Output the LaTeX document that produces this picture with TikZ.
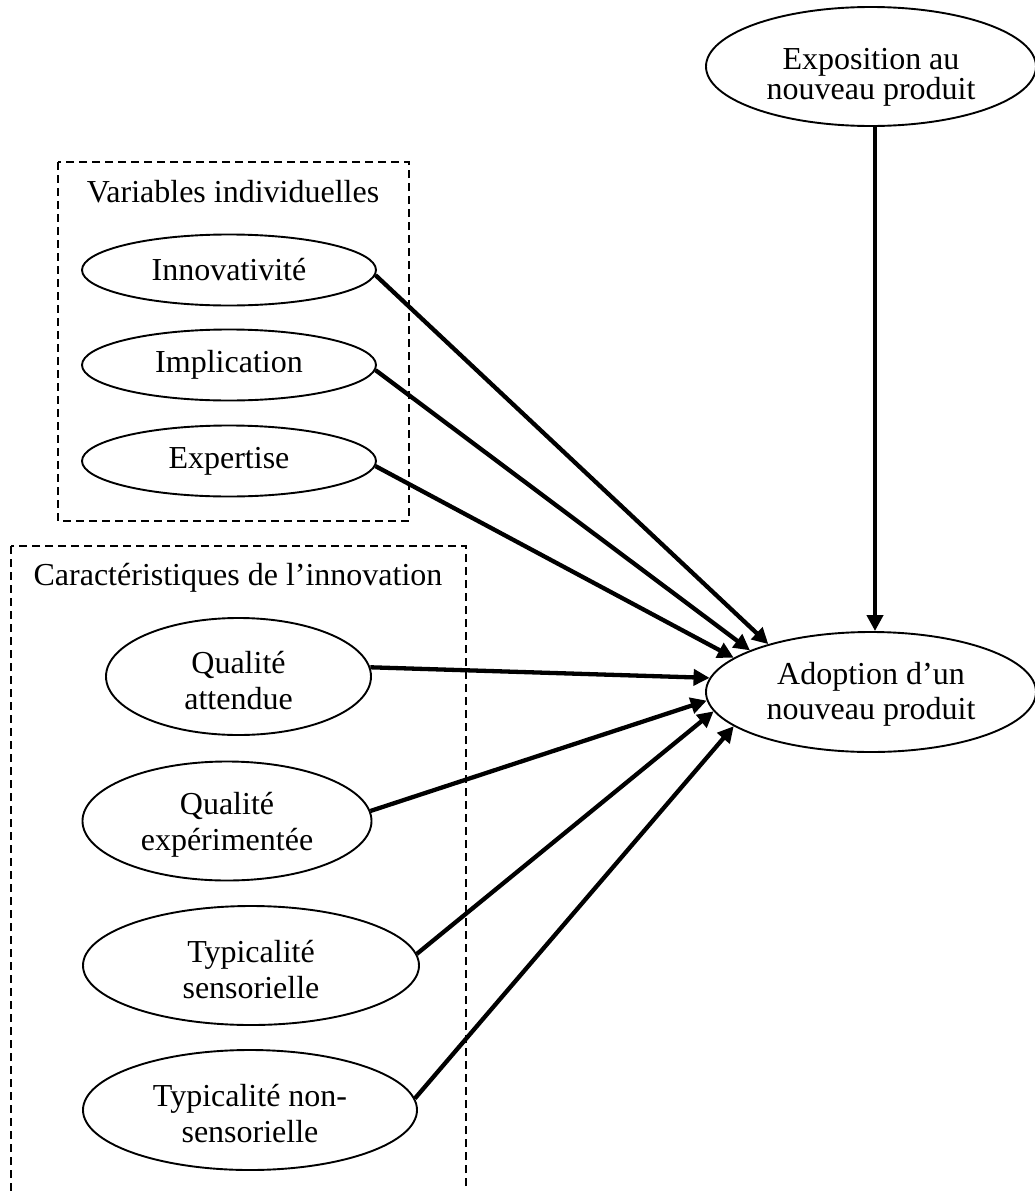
\documentclass[tikz,border=0pt]{standalone}
\usepackage{fontspec}
\setmainfont{Liberation Serif}
\usetikzlibrary{shapes.geometric,arrows.meta}

% invisible strut that lowers the text block inside an ellipse
\newcommand{\lowerby}[1]{\rule{0pt}{#1}}

\tikzset{
  construct/.style={draw, ellipse, line width=1.9pt, inner sep=0pt, align=center,
    font=\fontsize{32}{36}\selectfont},
  groupbox/.style={draw, line width=1.8pt, dash pattern=on 8pt off 5pt},
  boxtitle/.style={anchor=base, inner sep=0pt, font=\fontsize{32}{38}\selectfont},
  effect/.style={line width=4.3pt, -{Triangle[length=16pt,width=16pt]}}
}

\begin{document}
\begin{tikzpicture}[x=1pt, y=-1pt]
  \clip (0,0) rectangle (1035,1191);
  \fill[white] (0,0) rectangle (1035,1191);

  % group frames
  \draw[groupbox] (58,162) rectangle (409,521);
  \draw[groupbox] (11,546) rectangle (466,1230);
  \node[boxtitle] (tvar) at (233,202) {Variables individuelles};
  \node[boxtitle] (tcar) at (238,585) {Caractéristiques de l’innovation};

  % individual variables
  \node[construct, minimum width=294pt, minimum height=71pt] (inno) at (229,270) {Innovativité};
  \node[construct, minimum width=294pt, minimum height=71pt] (impl) at (229,365) {Implication};
  \node[construct, minimum width=294pt, minimum height=71pt] (expe) at (229,461) {Expertise};

  % characteristics of the innovation
  \node[construct, minimum width=265pt, minimum height=117pt] (qatt) at (238.5,676.5)
    {\lowerby{30pt}Qualité\\attendue};
  \node[construct, minimum width=289pt, minimum height=119pt] (qexp) at (227,821)
    {\lowerby{30pt}Qualité\\expérimentée};
  \node[construct, minimum width=336pt, minimum height=119pt] (tsen) at (251,965.5)
    {\lowerby{30pt}Typicalité\\sensorielle};
  \node[construct, minimum width=334pt, minimum height=120pt] (tnon) at (250,1110)
    {\lowerby{30pt}Typicalité non-\\sensorielle};

  % exposure and adoption
  \node[construct, minimum width=330pt, minimum height=119pt,
        font=\fontsize{32}{28}\selectfont] (expo) at (871,66.5)
    {\lowerby{42pt}Exposition au\\nouveau produit};
  \node[construct, minimum width=330pt, minimum height=120pt,
        font=\fontsize{32}{35}\selectfont] (adop) at (871,692)
    {\lowerby{26pt}Adoption d’un\\nouveau produit};

  % effects on adoption
  \draw[effect] ([xshift=4pt]expo.south) -- ([xshift=4pt]adop.north);
  \draw[effect] (inno.-2) -- (adop.155);
  \draw[effect] (impl.-2) -- (adop.161);
  \draw[effect] (expe.-2) -- (adop.166);
  \draw[effect] (qatt.4) -- (adop.175.8);
  \draw[effect] (qexp.4) -- (adop.183.8);
  \draw[effect] (tsen.4) -- (adop.187.6);
  \draw[effect] (tnon.4) -- (adop.194.3);
\end{tikzpicture}
\end{document}
